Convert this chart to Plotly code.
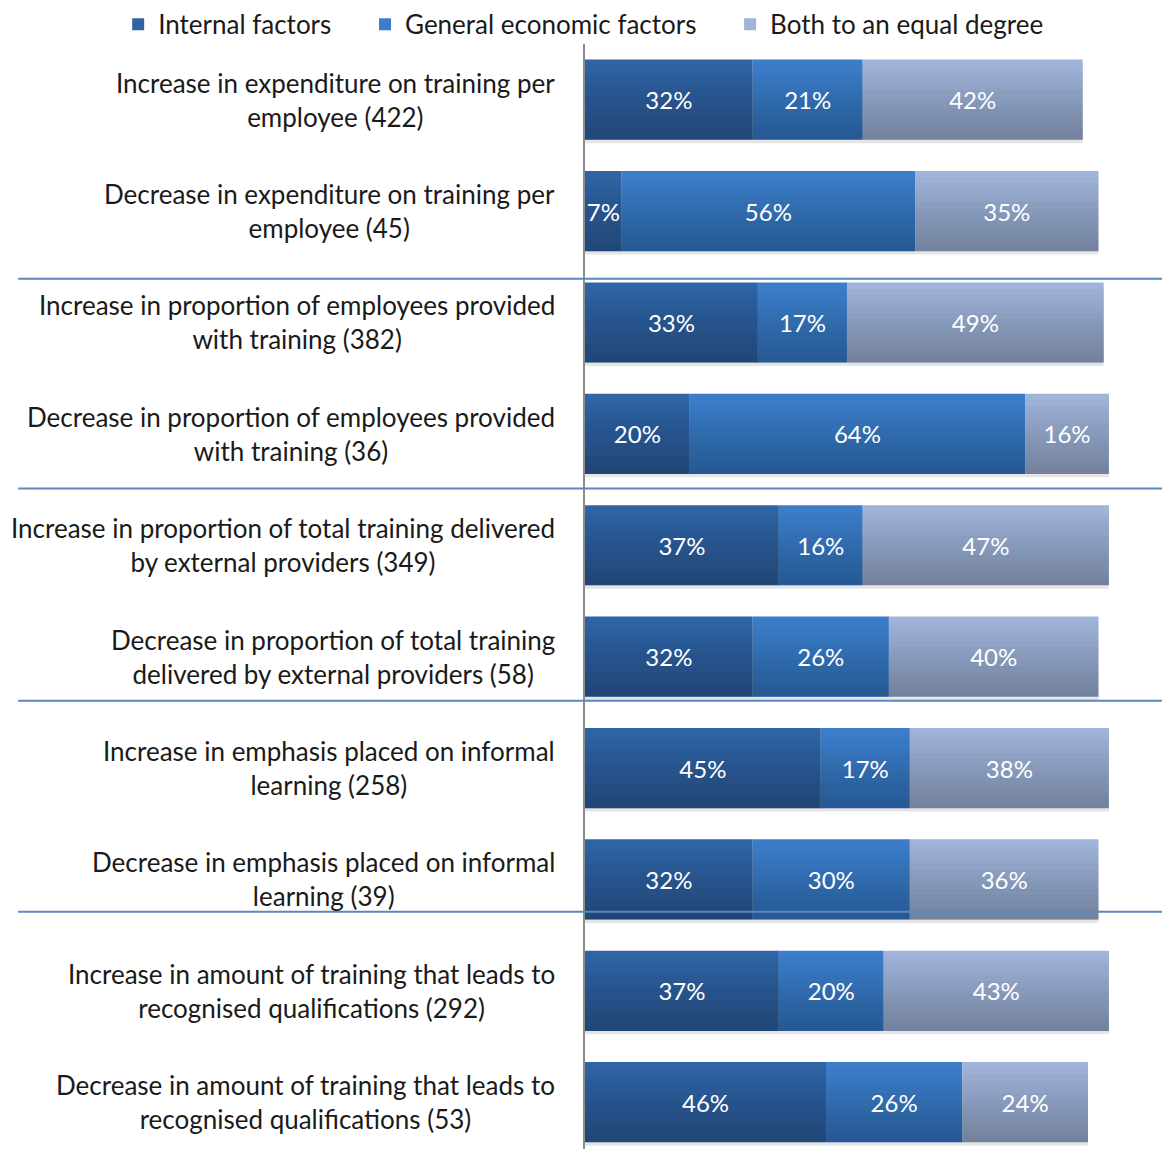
import plotly.graph_objects as go

categories = [
    "Increase in expenditure on training per<br>employee (422)",
    "Decrease in expenditure on training per<br>employee (45)",
    "Increase in proportion of employees provided<br>with training (382)",
    "Decrease in proportion of employees provided<br>with training (36)",
    "Increase in proportion of total training delivered<br>by external providers (349)",
    "Decrease in proportion of total training<br>delivered by external providers (58)",
    "Increase in emphasis placed on informal<br>learning (258)",
    "Decrease in emphasis placed on informal<br>learning (39)",
    "Increase in amount of training that leads to<br>recognised qualifications (292)",
    "Decrease in amount of training that leads to<br>recognised qualifications (53)",
]
internal = [32, 7, 33, 20, 37, 32, 45, 32, 37, 46]
general = [21, 56, 17, 64, 16, 26, 17, 30, 20, 26]
both = [42, 35, 49, 16, 47, 40, 38, 36, 43, 24]
series_names = ["Internal factors", "General economic factors", "Both to an equal degree"]
colors = ["#3065A5", "#3C7DCB", "#A0B4DA"]
legend_x = [-0.798, -0.376, 0.248]
separators = [1.607, 3.49, 5.395, 7.29]

FONT = "Lato"
BAR_W = 0.72
N_LAYERS = 12
A_LAYER = 0.024

ypos = list(range(len(categories)))
series_vals = [internal, general, both]
bases = []
run = [0] * len(categories)
for vals in series_vals:
    bases.append(list(run))
    run = [r + v for r, v in zip(run, vals)]
totals = run

fig = go.Figure()

# soft shadow under each bar
fig.add_trace(go.Bar(
    y=ypos, x=totals, base=[0] * len(totals), orientation="h",
    width=BAR_W, offset=-BAR_W / 2 + 0.03,
    marker=dict(color="rgba(0,0,0,0.10)", line=dict(width=0)),
    showlegend=False, hoverinfo="skip",
))

# main coloured bars
legend_ids = ["legend", "legend2", "legend3"]
for name, vals, base, col, lg in zip(series_names, series_vals, bases, colors, legend_ids):
    fig.add_trace(go.Bar(
        y=ypos, x=vals, base=base, name=name, orientation="h",
        marker=dict(color=col, line=dict(width=0)),
        width=BAR_W, hoverinfo="skip", legend=lg,
    ))

# vertical shading (lighter on top, darker at bottom), cumulative layers
all_y = ypos * 3
all_x = internal + general + both
all_base = bases[0] + bases[1] + bases[2]
step = BAR_W / (N_LAYERS + 1)
for j in range(1, N_LAYERS + 1):
    fig.add_trace(go.Bar(
        y=all_y, x=all_x, base=all_base, orientation="h",
        width=BAR_W - j * step, offset=-BAR_W / 2 + j * step,
        marker=dict(color=f"rgba(0,0,0,{A_LAYER})", line=dict(width=0)),
        showlegend=False, hoverinfo="skip",
    ))

# value labels
fig.add_trace(go.Bar(
    y=all_y, x=all_x, base=all_base, orientation="h", width=BAR_W,
    marker=dict(color="rgba(0,0,0,0)", line=dict(width=0)),
    text=[f"{v}%" for v in all_x],
    textposition="inside", insidetextanchor="middle", textangle=0,
    textfont=dict(color="white", size=24, family=FONT),
    showlegend=False, hoverinfo="skip",
))

for i, c in enumerate(categories):
    fig.add_annotation(
        x=-0.048, xref="paper", y=i, yref="y", text=c, showarrow=False,
        xanchor="right", yanchor="middle", align="center",
        font=dict(size=26, color="#1a1a1a", family=FONT),
    )

for s in separators:
    fig.add_shape(type="line", xref="paper", yref="y", x0=-0.969, x1=1.0,
                  y0=s, y1=s, line=dict(color="#5B87C0", width=2))

legend_common = dict(orientation="h", y=0.9965, yanchor="bottom", xanchor="left",
                     font=dict(size=26, color="#1a1a1a", family=FONT),
                     itemwidth=30, bgcolor="rgba(0,0,0,0)")
fig.update_layout(
    barmode="overlay",
    width=1162, height=1141,
    margin=dict(l=577, r=0, t=36, b=0, autoexpand=False),
    paper_bgcolor="white", plot_bgcolor="white",
    uniformtext=dict(minsize=24, mode="show"),
    legend=dict(x=legend_x[0], **legend_common),
    legend2=dict(x=legend_x[1], **legend_common),
    legend3=dict(x=legend_x[2], **legend_common),
    font=dict(family=FONT),
    showlegend=True,
)
fig.update_xaxes(range=[0, 111.65], showgrid=False, zeroline=False,
                 showticklabels=False, showline=False, fixedrange=True)
fig.update_yaxes(range=[9.42, -0.5], showgrid=False, zeroline=False,
                 showticklabels=False, showline=True, linecolor="#8c8c8c",
                 linewidth=2, fixedrange=True)

fig.write_html("out.html")
